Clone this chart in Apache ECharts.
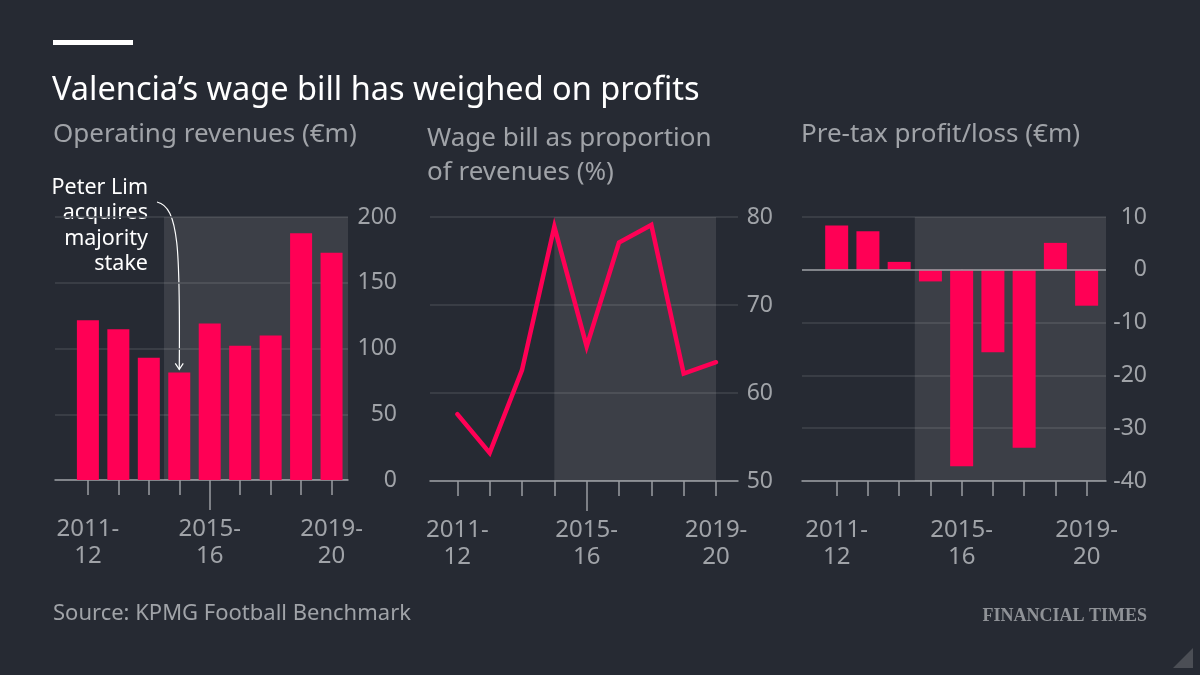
<!DOCTYPE html>
<html>
<head>
<meta charset="utf-8">
<script src="https://cdn.jsdelivr.net/npm/echarts@6.0.0/dist/echarts.min.js"></script>
<style>
  html, body { margin: 0; padding: 0; background: #262a33; }
  #main { width: 1200px; height: 675px; }
</style>
</head>
<body>
<div id="main"></div>
<script>
// seasons, one per bar / point
var seasons = ['2011-12', '2012-13', '2013-14', '2014-15', '2015-16', '2016-17', '2017-18', '2018-19', '2019-20'];
var labelIdx = [0, 4, 8];
// operating revenues, €m
var revenues = [121.5, 114.7, 92.9, 81.8, 119, 102, 109.9, 187.6, 172.9];
// wage bill as % of revenues
var wageShare = [57.6, 53.2, 62.6, 78.9, 65.3, 77.1, 79.1, 62.2, 63.5];
// pre-tax profit/loss, €m
var profit = [8.4, 7.3, 1.5, -2.2, -37.2, -15.6, -33.7, 5.1, -6.8];

var RED = '#ff0055';
var BG = '#262a33';
var SHADE = 'rgba(255,255,255,0.1)';
var GRID = '#41444c';
var AXIS = '#9a9da2';
var TXT = '#a0a3a8';
var FONT = '"Noto Sans"';

function pairs(arr) {
    return arr.map(function (v, i) { return [i, v]; });
}

// main x axis: short ticks on every season, labels on three of them
function xMain(grid, min, max) {
    return {
        type: 'value', gridIndex: grid, position: 'bottom', min: min, max: max,
        axisLine: { show: true, onZero: false, lineStyle: { color: AXIS, width: 1.5 } },
        axisTick: { show: true, length: 15, customValues: seasons.map(function (s, i) { return i; }), lineStyle: { color: AXIS, width: 1.5 } },
        axisLabel: {
            show: true, customValues: labelIdx, margin: 36,
            color: TXT, fontFamily: 'Noto Sans', fontSize: 24, lineHeight: 27,
            formatter: function (v) { return seasons[v].replace('-', '-\n'); }
        },
        splitLine: { show: false }
    };
}
// second axis just for the long tick at 2015-16
function xLong(grid, min, max) {
    return {
        type: 'value', gridIndex: grid, position: 'bottom', min: min, max: max,
        axisLine: { show: false },
        axisTick: { show: true, length: 30, customValues: [4], lineStyle: { color: AXIS, width: 1.5 } },
        axisLabel: { show: false },
        splitLine: { show: false }
    };
}
function yAxis(grid, min, max, interval, margin) {
    return {
        type: 'value', gridIndex: grid, position: 'right', min: min, max: max, interval: interval,
        axisLine: { show: false }, axisTick: { show: false },
        axisLabel: { color: TXT, fontFamily: 'Noto Sans', fontSize: 23, align: 'right', margin: margin },
        splitLine: { lineStyle: { color: GRID, width: 1.5 } }
    };
}

var staticGraphic = [
    { id: 'bar', type: 'rect', shape: { x: 53, y: 40, width: 80, height: 5 }, style: { fill: '#ffffff' } },
    { id: 'title', type: 'text', left: 52, top: 74, style: { text: 'Valencia\u2019s wage bill has weighed on profits', fill: '#ffffff', font: '32.5px ' + FONT } },
    { id: 's1', type: 'text', left: 53, top: 122, style: { text: 'Operating revenues (\u20acm)', fill: TXT, font: '26px ' + FONT } },
    { id: 's2', type: 'text', left: 427, top: 122, style: { text: 'Wage bill as proportion\nof revenues (%)', fill: TXT, font: '26px ' + FONT, lineHeight: 34 } },
    { id: 's3', type: 'text', left: 801, top: 122, style: { text: 'Pre-tax profit/loss (\u20acm)', fill: TXT, font: '26px ' + FONT } },
    { id: 'note', type: 'text', x: 148, y: 175, style: { text: 'Peter Lim\nacquires\nmajority\nstake', fill: '#ffffff', font: '21.5px ' + FONT, lineHeight: 25.5, align: 'right' } },
    { id: 'src', type: 'text', left: 53, top: 603, style: { text: 'Source: KPMG Football Benchmark', fill: TXT, font: '22px ' + FONT } },
    { id: 'ft', type: 'text', x: 1147, y: 607, style: { text: 'FINANCIAL TIMES', fill: '#8f9297', font: 'bold 18px "Liberation Serif"', align: 'right' } },
    { id: 'tri', type: 'polygon', shape: { points: [[1173, 668], [1193, 648], [1193, 668]] }, style: { fill: '#4b4e55' } }
];

var chart = echarts.init(document.getElementById('main'));
var option = {
    backgroundColor: BG,
    animation: false,
    grid: [
        { left: 55, right: 852, top: 217, bottom: 195 },
        { left: 430, right: 462, top: 217, bottom: 194 },
        { left: 802, right: 94, top: 217, bottom: 194 }
    ],
    xAxis: [
        xMain(0, -1.08, 8.54), xLong(0, -1.08, 8.54),
        xMain(1, -0.845, 8.68), xLong(1, -0.845, 8.68),
        xMain(2, -1.11, 8.62), xLong(2, -1.11, 8.62)
    ],
    yAxis: [
        yAxis(0, 0, 200, 50, 49),
        yAxis(1, 50, 80, 10, 35),
        yAxis(2, -40, 10, 10, 41)
    ],
    series: [
        {
            type: 'bar', xAxisIndex: 0, yAxisIndex: 0, barWidth: 22,
            itemStyle: { color: RED }, data: pairs(revenues),
            markArea: { silent: true, itemStyle: { color: SHADE }, data: [[{ xAxis: 2.5, yAxis: 0 }, { xAxis: 8.54, yAxis: 200 }]] }
        },
        {
            type: 'line', xAxisIndex: 2, yAxisIndex: 1, symbol: 'none',
            lineStyle: { color: RED, width: 4.5, cap: 'round', join: 'miter' }, data: pairs(wageShare),
            markArea: { silent: true, itemStyle: { color: SHADE }, data: [[{ xAxis: 3, yAxis: 50 }, { xAxis: 8, yAxis: 80 }]] }
        },
        {
            type: 'bar', xAxisIndex: 4, yAxisIndex: 2, barWidth: 23,
            itemStyle: { color: RED }, data: pairs(profit),
            markArea: { silent: true, itemStyle: { color: SHADE }, data: [[{ xAxis: 2.5, yAxis: -40 }, { xAxis: 8.62, yAxis: 10 }]] },
            markLine: { silent: true, symbol: 'none', label: { show: false }, lineStyle: { color: AXIS, type: 'solid', width: 1.5 }, data: [{ yAxis: 0 }] }
        }
    ],
    graphic: staticGraphic
};
chart.setOption(option);

// annotation arrow pointing at the 2014-15 bar
var tip = chart.convertToPixel({ xAxisIndex: 0, yAxisIndex: 0 }, [3, revenues[3]]);
var tx = tip[0], ty = tip[1] - 3;
chart.setOption({
    graphic: staticGraphic.concat([
        { id: 'arrow', type: 'bezierCurve', shape: { x1: 157, y1: 202, x2: tx, y2: ty, cpx1: 179, cpy1: 207, cpx2: tx + 1, cpy2: 250 }, style: { stroke: '#ffffff', lineWidth: 1.2, fill: null } },
        { id: 'head', type: 'polyline', shape: { points: [[tx - 4, ty - 6], [tx, ty], [tx + 4, ty - 6]] }, style: { stroke: '#ffffff', lineWidth: 1.2, fill: null } }
    ])
});

window.addEventListener('resize', function () { chart.resize(); });
</script>
</body>
</html>
